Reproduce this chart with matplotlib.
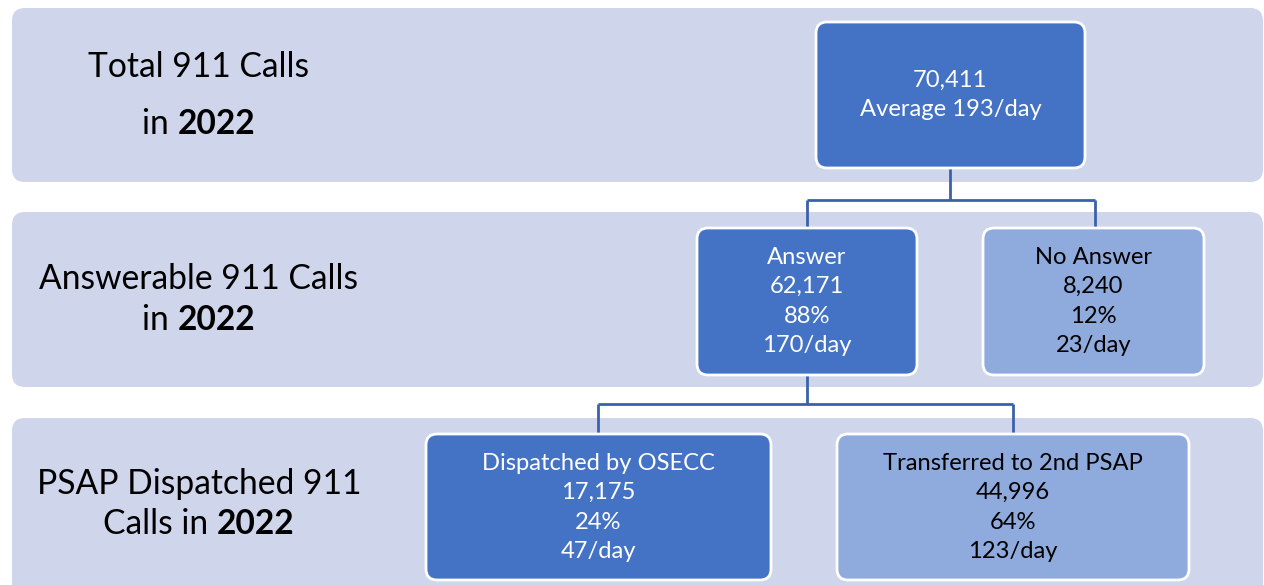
import matplotlib
matplotlib.use("Agg")
import matplotlib.pyplot as plt
from matplotlib.patches import FancyBboxPatch

# ---- data ----
year = "2022"
total_calls = "70,411"
total_avg = "Average 193/day"
node_names = ["Answer", "No Answer", "Dispatched by OSECC", "Transferred to 2nd PSAP"]
node_counts = ["62,171", "8,240", "17,175", "44,996"]
node_pcts = ["88%", "12%", "24%", "64%"]
node_daily = ["170/day", "23/day", "47/day", "123/day"]
row_labels = [("Total 911 Calls", "in "), ("Answerable 911 Calls", "in "), ("PSAP Dispatched 911", "Calls in ")]

# ---- style ----
plt.rcParams['font.family'] = ['Lato', 'DejaVu Sans']
BAND = "#CFD5EA"
DARK = "#4472C4"
LIGHT = "#8FAADC"
LINE = "#3A62A8"

W, H = 1264, 585
fig = plt.figure(figsize=(W / 100, H / 100), dpi=100)
ax = fig.add_axes([0, 0, 1, 1])
ax.set_xlim(0, W)
ax.set_ylim(H, 0)
ax.axis("off")

def rbox(x0, y0, x1, y1, fc, ec="none", lw=0, r=12, z=1):
    p = FancyBboxPatch((x0 + r, y0 + r), (x1 - x0) - 2 * r, (y1 - y0) - 2 * r,
                       boxstyle=f"round,pad={r}", fc=fc, ec=ec, lw=lw, zorder=z,
                       mutation_aspect=1)
    ax.add_patch(p)

# bands
rbox(12, 8, 1263, 182, BAND, r=13)
rbox(12, 212, 1263, 387, BAND, r=13)
rbox(12, 418, 1263, 600, BAND, r=13)

# connectors
def conn(xc, ytop, ymid, xl, xr, ybot):
    kw = dict(color=LINE, lw=2, zorder=2, solid_capstyle="butt")
    ax.plot([xc, xc], [ytop, ymid], **kw)
    ax.plot([xl, xr], [ymid, ymid], **kw)
    ax.plot([xl, xl], [ymid, ybot], **kw)
    ax.plot([xr, xr], [ymid, ybot], **kw)

conn(950, 168, 200, 807, 1095, 228)
conn(807, 375, 404, 598, 1013, 434)

# boxes
boxes = [
    (697, 228, 917, 375, DARK, "white"),
    (983, 228, 1204, 375, LIGHT, "black"),
    (426, 434, 771, 580, DARK, "white"),
    (837, 434, 1189, 580, LIGHT, "black"),
]
FS_BOX = 17.1
rbox(816, 22, 1085, 168, DARK, ec="white", lw=2, r=11, z=3)
ax.text(950.5, 80, total_calls, ha="center", va="center", color="white", fontsize=FS_BOX, zorder=4)
ax.text(950.5, 109, total_avg, ha="center", va="center", color="white", fontsize=FS_BOX, zorder=4)

for i, (x0, y0, x1, y1, fc, tc) in enumerate(boxes):
    rbox(x0, y0, x1, y1, fc, ec="white", lw=2, r=11, z=3)
    xc = (x0 + x1) / 2
    lines = [node_names[i], node_counts[i], node_pcts[i], node_daily[i]]
    for j, s in enumerate(lines):
        ax.text(xc, y0 + 29.5 + j * 29.3, s, ha="center", va="center", color=tc,
                fontsize=FS_BOX, zorder=4)

# row labels with bold year
fig.canvas.draw()
renderer = fig.canvas.get_renderer()
FS_ROW = 24.2

def mixed(xc, y, plain, bold):
    t1 = ax.text(0, y, plain, ha="left", va="center", fontsize=FS_ROW, color="black")
    t2 = ax.text(0, y, bold, ha="left", va="center", fontsize=FS_ROW, color="black",
                 fontweight="bold")
    w1 = t1.get_window_extent(renderer).width
    w2 = t2.get_window_extent(renderer).width
    x0 = xc - (w1 + w2) / 2
    t1.set_x(x0)
    t2.set_x(x0 + w1)

row_y = [(67, 124), (279, 320), (484, 524)]
for (l1, l2), (y1, y2) in zip(row_labels, row_y):
    ax.text(199, y1, l1, ha="center", va="center", fontsize=FS_ROW, color="black")
    mixed(199, y2, l2, year)

fig.savefig("out.png", dpi=100)
